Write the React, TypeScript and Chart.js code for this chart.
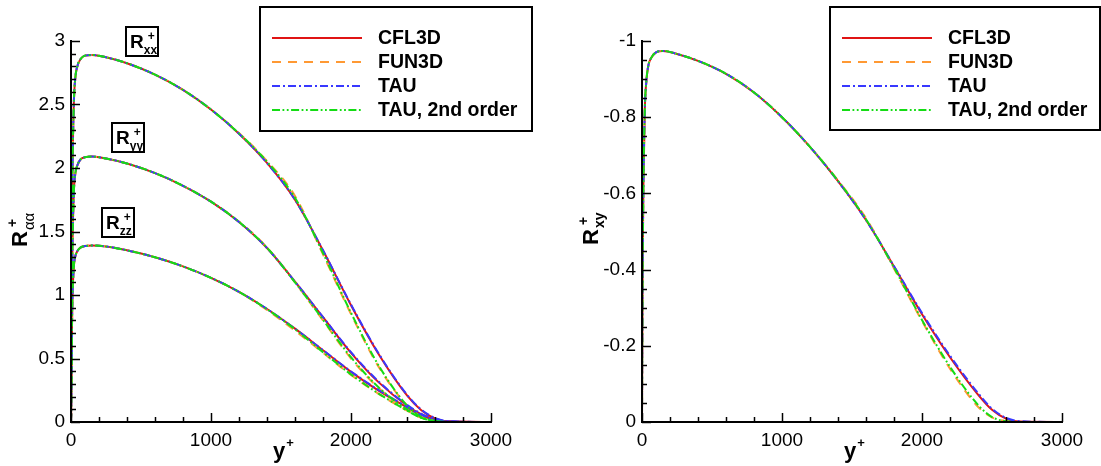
import React, { useEffect, useRef } from "react";
import { Chart, registerables } from "chart.js";

Chart.register(...registerables);

const FONT = "'Liberation Sans', Arial, Helvetica, sans-serif";

// ---------- data ----------
const yPlus = [0, 2, 5, 10, 20, 30, 45, 70, 100, 150, 250, 400, 600, 800, 1000, 1200, 1400, 1600, 1800, 2000, 2200, 2400, 2500, 2600, 2700, 3000];

const rxxCFL3D = [0, 0.4, 1.1, 1.9, 2.5, 2.7, 2.8, 2.86, 2.885, 2.89, 2.872, 2.825, 2.735, 2.615, 2.46, 2.27, 2.04, 1.75, 1.35, 0.92, 0.53, 0.21, 0.095, 0.028, 0.004, 0];
const rxxFUN3D = [0, 0.4, 1.1, 1.9, 2.5, 2.7, 2.8, 2.86, 2.885, 2.89, 2.872, 2.825, 2.735, 2.615, 2.46, 2.275, 2.055, 1.78, 1.32, 0.85, 0.43, 0.13, 0.045, 0.01, 0, 0];
const rxxTAU = [0, 0.4, 1.1, 1.9, 2.5, 2.7, 2.8, 2.86, 2.885, 2.89, 2.872, 2.825, 2.735, 2.615, 2.46, 2.27, 2.04, 1.75, 1.352, 0.925, 0.535, 0.215, 0.1, 0.031, 0.005, 0];
const rxxTAU2 = [0, 0.4, 1.1, 1.9, 2.5, 2.7, 2.8, 2.86, 2.885, 2.89, 2.872, 2.825, 2.735, 2.615, 2.46, 2.272, 2.05, 1.765, 1.33, 0.86, 0.44, 0.13, 0.04, 0.008, 0, 0];

const ryyCFL3D = [0, 0.3, 0.8, 1.35, 1.8, 1.95, 2.02, 2.07, 2.085, 2.09, 2.075, 2.035, 1.96, 1.86, 1.735, 1.575, 1.37, 1.105, 0.825, 0.545, 0.31, 0.13, 0.062, 0.02, 0.003, 0];
const ryyFUN3D = [0, 0.3, 0.8, 1.35, 1.8, 1.95, 2.02, 2.07, 2.085, 2.09, 2.075, 2.035, 1.96, 1.86, 1.735, 1.578, 1.375, 1.1, 0.8, 0.5, 0.265, 0.095, 0.035, 0.008, 0, 0];
const ryyTAU = [0, 0.3, 0.8, 1.35, 1.8, 1.95, 2.02, 2.07, 2.085, 2.09, 2.075, 2.035, 1.96, 1.86, 1.735, 1.575, 1.37, 1.105, 0.826, 0.55, 0.316, 0.135, 0.066, 0.022, 0.004, 0];
const ryyTAU2 = [0, 0.3, 0.8, 1.35, 1.8, 1.95, 2.02, 2.07, 2.085, 2.09, 2.075, 2.035, 1.96, 1.86, 1.735, 1.576, 1.372, 1.1, 0.805, 0.51, 0.27, 0.098, 0.035, 0.007, 0, 0];

const rzzCFL3D = [0, 0.25, 0.6, 0.95, 1.22, 1.3, 1.345, 1.375, 1.385, 1.39, 1.382, 1.352, 1.297, 1.225, 1.135, 1.025, 0.89, 0.735, 0.565, 0.395, 0.245, 0.115, 0.055, 0.017, 0.003, 0];
const rzzFUN3D = [0, 0.25, 0.6, 0.95, 1.22, 1.3, 1.345, 1.375, 1.385, 1.39, 1.382, 1.352, 1.297, 1.225, 1.135, 1.023, 0.882, 0.72, 0.545, 0.37, 0.22, 0.09, 0.036, 0.008, 0, 0];
const rzzTAU = [0, 0.25, 0.6, 0.95, 1.22, 1.3, 1.345, 1.375, 1.385, 1.39, 1.382, 1.352, 1.297, 1.225, 1.135, 1.025, 0.89, 0.735, 0.566, 0.398, 0.25, 0.12, 0.058, 0.019, 0.003, 0];
const rzzTAU2 = [0, 0.25, 0.6, 0.95, 1.22, 1.3, 1.345, 1.375, 1.385, 1.39, 1.382, 1.352, 1.297, 1.225, 1.135, 1.025, 0.888, 0.73, 0.55, 0.375, 0.222, 0.09, 0.034, 0.007, 0, 0];

const rxyCFL3D = [0, -0.2, -0.42, -0.62, -0.82, -0.89, -0.935, -0.958, -0.97, -0.974, -0.966, -0.948, -0.914, -0.865, -0.8, -0.722, -0.632, -0.53, -0.408, -0.283, -0.17, -0.072, -0.032, -0.009, -0.001, 0];
const rxyFUN3D = [0, -0.2, -0.42, -0.62, -0.82, -0.89, -0.935, -0.958, -0.97, -0.974, -0.966, -0.948, -0.914, -0.865, -0.8, -0.722, -0.634, -0.535, -0.403, -0.265, -0.14, -0.04, -0.012, -0.002, 0, 0];
const rxyTAU = [0, -0.2, -0.42, -0.62, -0.82, -0.89, -0.935, -0.958, -0.97, -0.974, -0.966, -0.948, -0.914, -0.865, -0.8, -0.722, -0.632, -0.53, -0.409, -0.286, -0.174, -0.076, -0.035, -0.011, -0.002, 0];
const rxyTAU2 = [0, -0.2, -0.42, -0.62, -0.82, -0.89, -0.935, -0.958, -0.97, -0.974, -0.966, -0.948, -0.914, -0.865, -0.8, -0.722, -0.633, -0.532, -0.405, -0.268, -0.145, -0.045, -0.013, -0.002, 0, 0];

const codes = ["CFL3D", "FUN3D", "TAU", "TAU, 2nd order"];
const codeColors = ["#e01414", "#ff9933", "#3838ff", "#14dc14"];
const codeDashes: number[][] = [[], [9, 7], [8, 3, 2, 3], [8, 2.5, 1.8, 2.5, 1.8, 2.5]];

const xTickStep = 1000;
const xMinorStep = 200;

// ---------- helpers ----------
function makeDatasets(seriesByCode: number[][], tag: string) {
  return seriesByCode.map((vals, i) => ({
    label: codes[i] + " " + tag,
    data: yPlus.map((x, k) => ({ x, y: vals[k] })),
    borderColor: codeColors[i],
    backgroundColor: codeColors[i],
    borderWidth: 2,
    borderDash: codeDashes[i],
    pointRadius: 0,
    cubicInterpolationMode: "monotone" as const,
    order: 3 - i,
    fill: false,
  }));
}

function fmt(v: number) {
  return String(Number(v.toFixed(3)));
}

function drawScript(
  ctx: CanvasRenderingContext2D,
  x: number,
  y: number,
  main: string,
  mainFont: string,
  sup: string,
  supFont: string,
  supDx: number,
  supDy: number,
  sub: string,
  subFont: string,
  subDx: number,
  subDy: number
) {
  ctx.textAlign = "left";
  ctx.textBaseline = "alphabetic";
  ctx.font = mainFont;
  ctx.fillText(main, x, y);
  const w = ctx.measureText(main).width;
  if (sup) {
    ctx.font = supFont;
    ctx.fillText(sup, x + w + supDx, y + supDy);
  }
  if (sub) {
    ctx.font = subFont;
    ctx.fillText(sub, x + w + subDx, y + subDy);
  }
}

type PlotCfg = {
  width: number;
  areaLeft: number;
  padRight: number;
  yMin: number;
  yMax: number;
  yStep: number;
  yMinor: number;
  reverse: boolean;
  datasets: any[];
  yTitle: { x: number; y: number; sub: string; subFont: string; subDy: number };
  legendBox: { left: number; top: number; width: number; height: number };
  boxes: { x: number; y: number; sub: string }[];
};

function makePlugin(cfg: PlotCfg) {
  return {
    id: "decor",
    afterDatasetsDraw(chart: any) {
      const ctx: CanvasRenderingContext2D = chart.ctx;
      const { left, right, top, bottom } = chart.chartArea;
      const xs = chart.scales.x;
      const ys = chart.scales.y;
      ctx.save();
      ctx.strokeStyle = "#000";
      ctx.fillStyle = "#000";
      // x ticks (inward)
      ctx.lineWidth = 1.5;
      for (let v = 0; v <= 3000 + 1e-6; v += xMinorStep) {
        const px = Math.round(xs.getPixelForValue(v)) + 0.5;
        const major = Math.abs(v % xTickStep) < 1e-6;
        ctx.beginPath();
        ctx.moveTo(px, bottom);
        ctx.lineTo(px, bottom - (major ? 9 : 5));
        ctx.stroke();
      }
      // y ticks (inward)
      const n = Math.round((cfg.yMax - cfg.yMin) / cfg.yMinor);
      for (let k = 0; k <= n; k++) {
        const v = cfg.yMin + k * cfg.yMinor;
        const r = v / cfg.yStep;
        const major = Math.abs(r - Math.round(r)) < 1e-6;
        const py = Math.round(ys.getPixelForValue(v)) + 0.5;
        ctx.beginPath();
        ctx.moveTo(left, py);
        ctx.lineTo(left + (major ? 9 : 5), py);
        ctx.stroke();
      }
      // axis lines
      ctx.lineWidth = 2;
      ctx.beginPath();
      ctx.moveTo(left, top - 1);
      ctx.lineTo(left, bottom);
      ctx.lineTo(right + 1, bottom);
      ctx.stroke();

      // x title  y+
      const cx = (left + right) / 2;
      drawScript(ctx, cx - 8, 458, "y", `bold 22px ${FONT}`, "+", `bold 13px ${FONT}`, 1, -11, "", "", 0, 0);

      // y title (rotated)
      ctx.save();
      ctx.translate(cfg.yTitle.x, cfg.yTitle.y);
      ctx.rotate(-Math.PI / 2);
      drawScript(ctx, 0, 0, "R", `bold 22px ${FONT}`, "+", `bold 14px ${FONT}`, 4, -10.5, cfg.yTitle.sub, cfg.yTitle.subFont, 1, cfg.yTitle.subDy);
      ctx.restore();

      // boxed labels
      for (const b of cfg.boxes) {
        const bx = xs.getPixelForValue(b.x);
        const by = ys.getPixelForValue(b.y);
        const bw = 32;
        const bh = 29;
        const l = Math.round(bx - bw / 2);
        const t = Math.round(by - bh / 2);
        ctx.lineWidth = 2;
        ctx.strokeRect(l, t, bw, bh);
        drawScript(ctx, l + 4, t + 21, "R", `bold 19px ${FONT}`, "+", `bold 12px ${FONT}`, 4, -8, b.sub, `bold 12px ${FONT}`, 0, 6);
      }

      // legend
      const lb = cfg.legendBox;
      ctx.lineWidth = 2;
      ctx.strokeRect(lb.left, lb.top, lb.width, lb.height);
      codes.forEach((name, i) => {
        const yy = lb.top + 31 + i * 24;
        ctx.save();
        ctx.strokeStyle = codeColors[i];
        ctx.lineWidth = 2;
        ctx.setLineDash(codeDashes[i]);
        ctx.beginPath();
        ctx.moveTo(lb.left + 12, yy);
        ctx.lineTo(lb.left + 102, yy);
        ctx.stroke();
        ctx.restore();
        ctx.font = `bold 19.5px ${FONT}`;
        ctx.textAlign = "left";
        ctx.textBaseline = "middle";
        ctx.fillStyle = "#000";
        ctx.fillText(name, lb.left + 118, yy + 1);
      });
      ctx.restore();
    },
  };
}

function makeConfig(cfg: PlotCfg): any {
  return {
    type: "line",
    data: { datasets: cfg.datasets },
    options: {
      animation: false,
      responsive: false,
      devicePixelRatio: 1,
      events: [],
      layout: { padding: { top: 41, right: cfg.padRight, left: 0, bottom: 0 } },
      plugins: { legend: { display: false }, tooltip: { enabled: false }, title: { display: false } },
      scales: {
        x: {
          type: "linear",
          min: 0,
          max: 3000,
          grid: { display: false, drawTicks: false },
          border: { display: false },
          ticks: {
            stepSize: xTickStep,
            autoSkip: false,
            maxRotation: 0,
            padding: 7,
            color: "#000",
            font: { family: FONT, size: 19 },
            callback: (v: number) => fmt(v),
          },
          afterFit: (s: any) => {
            s.height = 44;
          },
        },
        y: {
          type: "linear",
          min: cfg.yMin,
          max: cfg.yMax,
          reverse: cfg.reverse,
          grid: { display: false, drawTicks: false },
          border: { display: false },
          ticks: {
            stepSize: cfg.yStep,
            autoSkip: false,
            padding: 6,
            color: "#000",
            font: { family: FONT, size: 19 },
            callback: (v: number) => fmt(v),
          },
          afterFit: (s: any) => {
            s.width = cfg.areaLeft;
          },
        },
      },
    },
    plugins: [makePlugin(cfg)],
  };
}

const leftCfg: PlotCfg = {
  width: 551,
  areaLeft: 71,
  padRight: 60,
  yMin: 0,
  yMax: 3,
  yStep: 0.5,
  yMinor: 0.1,
  reverse: false,
  datasets: [
    ...makeDatasets([rxxCFL3D, rxxFUN3D, rxxTAU, rxxTAU2], "Rxx"),
    ...makeDatasets([ryyCFL3D, ryyFUN3D, ryyTAU, ryyTAU2], "Ryy"),
    ...makeDatasets([rzzCFL3D, rzzFUN3D, rzzTAU, rzzTAU2], "Rzz"),
  ],
  yTitle: { x: 27, y: 247, sub: "αα", subFont: `15px ${FONT}`, subDy: 7 },
  legendBox: { left: 260, top: 7, width: 272, height: 124 },
  boxes: [
    { x: 507, y: 3.0, sub: "xx" },
    { x: 407, y: 2.24, sub: "yy" },
    { x: 336, y: 1.57, sub: "zz" },
  ],
};

const rightCfg: PlotCfg = {
  width: 550,
  areaLeft: 91,
  padRight: 39,
  yMin: -1,
  yMax: 0,
  yStep: 0.2,
  yMinor: 0.05,
  reverse: true,
  datasets: makeDatasets([rxyCFL3D, rxyFUN3D, rxyTAU, rxyTAU2], "Rxy"),
  yTitle: { x: 47, y: 245, sub: "xy", subFont: `bold 14px ${FONT}`, subDy: 6 },
  legendBox: { left: 279, top: 7, width: 270, height: 123 },
  boxes: [],
};

function Plot({ cfg, left }: { cfg: PlotCfg; left: number }) {
  const ref = useRef<HTMLCanvasElement>(null);
  useEffect(() => {
    const chart = new Chart(ref.current as HTMLCanvasElement, makeConfig(cfg));
    return () => chart.destroy();
  }, [cfg]);
  return (
    <canvas
      ref={ref}
      width={cfg.width}
      height={466}
      style={{ position: "absolute", left, top: 0, width: cfg.width, height: 466 }}
    />
  );
}

export default function App() {
  return (
    <div style={{ position: "fixed", left: 0, top: 0, width: 1101, height: 466, background: "#fff", overflow: "hidden" }}>
      <Plot cfg={leftCfg} left={0} />
      <Plot cfg={rightCfg} left={551} />
    </div>
  );
}
